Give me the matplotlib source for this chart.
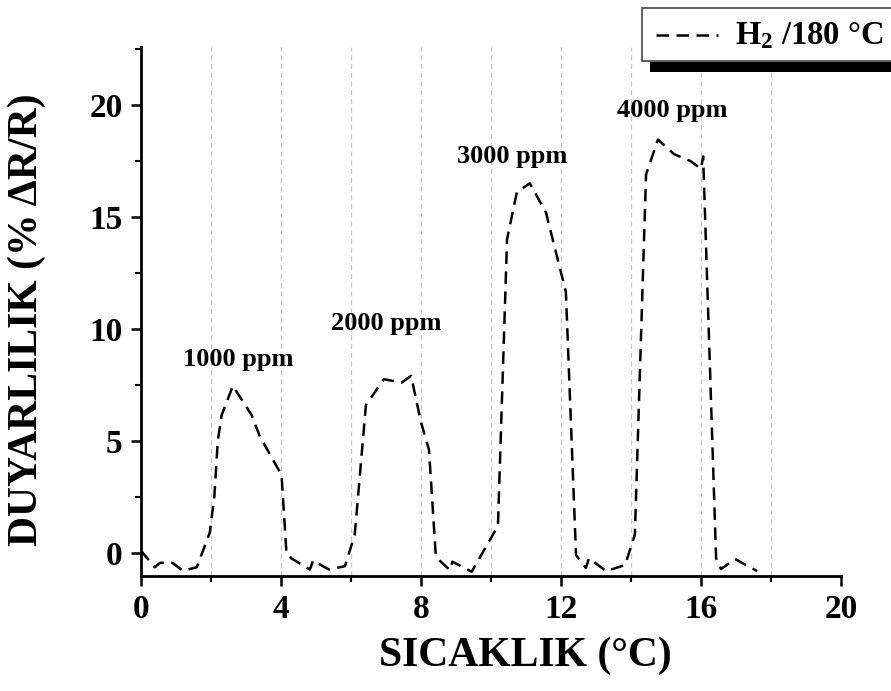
import matplotlib
matplotlib.use("Agg")
import matplotlib.pyplot as plt
from matplotlib.patches import Rectangle
from matplotlib.lines import Line2D
from matplotlib.ticker import MultipleLocator

plt.rcParams['font.family'] = ['Liberation Serif', 'DejaVu Serif']
plt.rcParams['font.weight'] = 'bold'
plt.rcParams['mathtext.fontset'] = 'custom'
plt.rcParams['mathtext.rm'] = 'Liberation Serif:bold'
plt.rcParams['mathtext.bf'] = 'Liberation Serif:bold'

# ---- data ----
temperature = [0.0, 0.4, 0.55, 0.9, 1.2, 1.6, 1.97, 2.1, 2.2, 2.31, 2.63, 3.16, 3.4, 4.02,
               4.16, 4.3, 4.83, 4.92, 5.37, 5.83, 6.11, 6.43, 6.94, 7.45, 7.72, 8.0, 8.23,
               8.42, 8.5, 8.83, 8.9, 9.45, 10.2, 10.46, 10.74, 11.11, 11.57, 12.14, 12.43,
               12.71, 12.8, 13.29, 13.83, 14.11, 14.43, 14.77, 15.23, 15.69, 16.0, 16.06,
               16.43, 16.57, 16.97, 17.6]
response = [0.1, -0.65, -0.45, -0.45, -0.8, -0.65, 0.9, 2.5, 5.0, 6.15, 7.45, 6.16, 5.2, 3.47,
            0.0, -0.25, -0.75, -0.35, -0.75, -0.6, 0.8, 6.6, 7.75, 7.6, 7.9, 5.84, 4.6,
            0.0, -0.3, -0.78, -0.4, -0.85, 1.2, 14.0, 16.1, 16.5, 15.2, 11.65, -0.1,
            -0.68, -0.25, -0.82, -0.55, 0.8, 16.9, 18.45, 17.8, 17.5, 17.15, 17.7,
            -0.25, -0.73, -0.28, -0.82]

peak_labels = ["1000 ppm", "2000 ppm", "3000 ppm", "4000 ppm"]
label_x = [2.78, 7.0, 10.6, 15.17]
label_y = [8.36, 9.95, 17.4, 19.47]

xticks = [0, 4, 8, 12, 16, 20]
yticks = [0, 5, 10, 15, 20]
grid_x = [2, 4, 6, 8, 10, 12, 14, 16, 18]

legend_text = r"$\mathbf{H_2}$ /180 °C"
xlabel = "SICAKLIK (°C)"
ylabel = "DUYARLILIK (% ΔR/R)"

# ---- figure ----
fig = plt.figure(figsize=(8.91, 6.91), dpi=100)
ax = fig.add_axes([0.158, 0.1664, 0.786, 0.766])

for gx in grid_x:
    ax.axvline(gx, color='#c8c8c8', lw=0.9, ls=(0, (4, 3)), zorder=0)

ax.plot(temperature, response, color='black', lw=1.8, ls=(0, (5, 3)))

for t, lx, ly in zip(peak_labels, label_x, label_y):
    ax.text(lx, ly, t, ha='center', va='baseline', fontsize=19, fontweight='bold')

ax.set_xlim(0, 20)
ax.set_ylim(-1.04, 22.6)
ax.set_xticks(xticks)
ax.set_yticks(yticks)
ax.xaxis.set_minor_locator(MultipleLocator(2))
ax.yaxis.set_minor_locator(MultipleLocator(2.5))
ax.tick_params(which='major', direction='out', length=7, width=1.8, labelsize=24, pad=6)
ax.tick_params(which='minor', direction='out', length=4, width=1.5)
for lab in ax.get_xticklabels() + ax.get_yticklabels():
    lab.set_fontweight('bold')

for s in ['top', 'right']:
    ax.spines[s].set_visible(False)
for s in ['left', 'bottom']:
    ax.spines[s].set_linewidth(2.0)

ax.set_xlabel(xlabel, fontsize=30, fontweight='bold', labelpad=10)
ax.xaxis.set_label_coords((525 - 141) / 700.0, -0.115)
ax.set_ylabel(ylabel, fontsize=30, fontweight='bold')
ax.yaxis.set_label_coords((46 - 141) / 700.0, (576 - 320) / 529.0)

# ---- legend box with shadow (figure coordinates) ----
W, H = 891.0, 691.0
shadow = Rectangle((650 / W, 1 - 72 / H), (891 - 650) / W, 10 / H, transform=fig.transFigure,
                   facecolor='black', edgecolor='none', zorder=5)
box = Rectangle((642 / W, 1 - 61 / H), (900 - 642) / W, (61 - 8) / H, transform=fig.transFigure,
                facecolor='white', edgecolor='#444444', lw=1.2, zorder=6, clip_on=False)
fig.patches.extend([shadow, box])
fig.lines.append(Line2D([656 / W, 718 / W], [1 - 35 / H, 1 - 35 / H], transform=fig.transFigure,
                        color='black', lw=1.8, ls=(0, (5, 3)), zorder=7))
fig.text(735 / W, 1 - 36 / H, legend_text, fontsize=23.5, fontweight='bold', va='center', ha='left',
         zorder=8)

fig.savefig("out.png", dpi=100)
